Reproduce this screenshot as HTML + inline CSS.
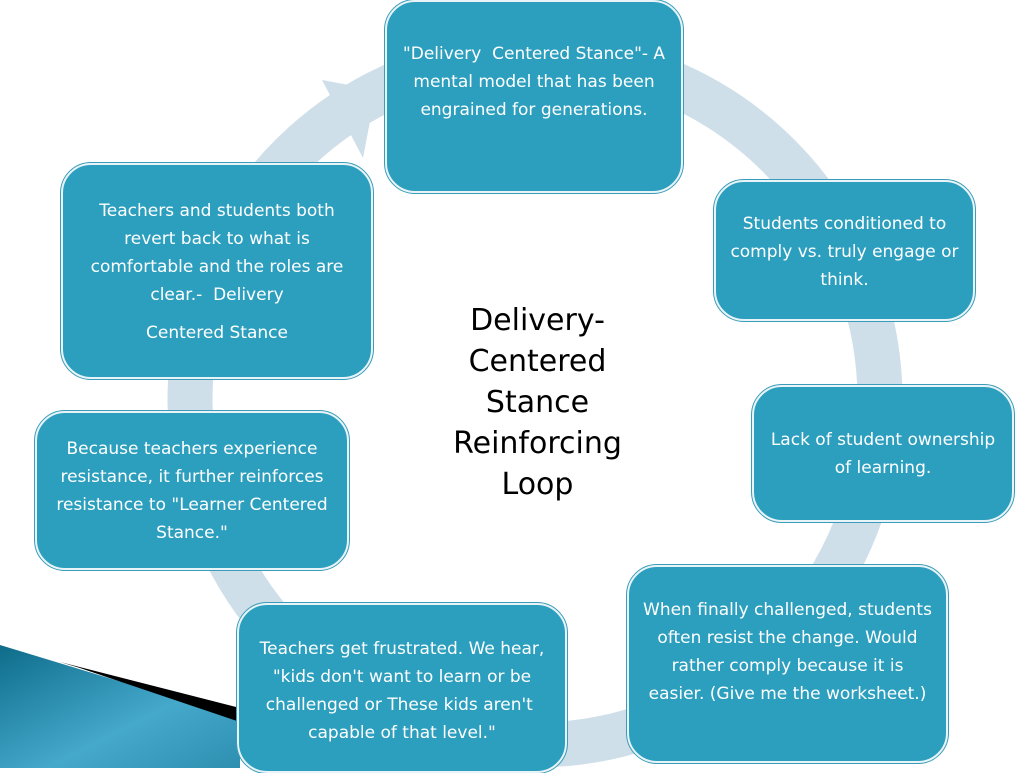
<!DOCTYPE html>
<html><head><meta charset="utf-8"><style>
body{margin:0;width:1024px;height:768px;overflow:hidden;background:#fff;position:relative;font-family:"DejaVu Sans","Liberation Sans",sans-serif}
.b{position:absolute;box-sizing:border-box;background:#2c9fbf;border:2px solid #e8f4f8;outline:1px solid #3a9cb8;border-radius:30px;color:#fff;text-align:center;font-size:17px;line-height:28px;padding:0 12px}
.t{position:absolute;left:430px;top:300px;width:215px;text-align:center;font-size:30px;line-height:41px;color:#000}
</style></head><body>
<svg width="1024" height="768" style="position:absolute;left:0;top:0">
<defs><linearGradient id="g" x1="0" y1="0" x2="1" y2="1"><stop offset="0" stop-color="#0e6c8a"/><stop offset="0.6" stop-color="#45a9cc"/><stop offset="1" stop-color="#2e8fb0"/></linearGradient></defs>
<circle cx="535" cy="400" r="345" fill="none" stroke="#cfdfe9" stroke-width="45"/>
<polygon points="322,80 376,90 363,158" fill="#cfdfe9"/>
<polygon points="0,645 240,718 240,768 0,768" fill="url(#g)"/>
<polygon points="60,662 240,708 240,722 80,668" fill="#000"/>
</svg>
<div class="b" style="left:385px;top:0;width:298px;height:193px;padding-top:38px">"Delivery&nbsp; Centered Stance"- A mental model that has been engrained for generations.</div>
<div class="b" style="left:714px;top:180px;width:261px;height:141px;padding-top:28px">Students conditioned to comply vs. truly engage or think.</div>
<div class="b" style="left:752px;top:385px;width:262px;height:137px;padding-top:39px">Lack of student ownership of learning.</div>
<div class="b" style="left:627px;top:565px;width:321px;height:198px;padding-top:29px">When finally challenged, students often resist the change. Would rather comply because it is easier. (Give me the worksheet.)</div>
<div class="b" style="left:237px;top:603px;width:330px;height:170px;padding-top:30px">Teachers get frustrated. We hear, "kids don't want to learn or be challenged or These kids aren't&nbsp; capable of that level."</div>
<div class="b" style="left:35px;top:411px;width:314px;height:159px;padding-top:22px">Because teachers experience resistance, it further reinforces resistance to "Learner Centered Stance."</div>
<div class="b" style="left:61px;top:163px;width:312px;height:216px;padding-top:32px">Teachers and students both revert back to what is comfortable and the roles are clear.-&nbsp; Delivery<div style="margin-top:10px">Centered Stance</div></div>
<div class="t">Delivery-<br>Centered<br>Stance<br>Reinforcing<br>Loop</div>
</body></html>
